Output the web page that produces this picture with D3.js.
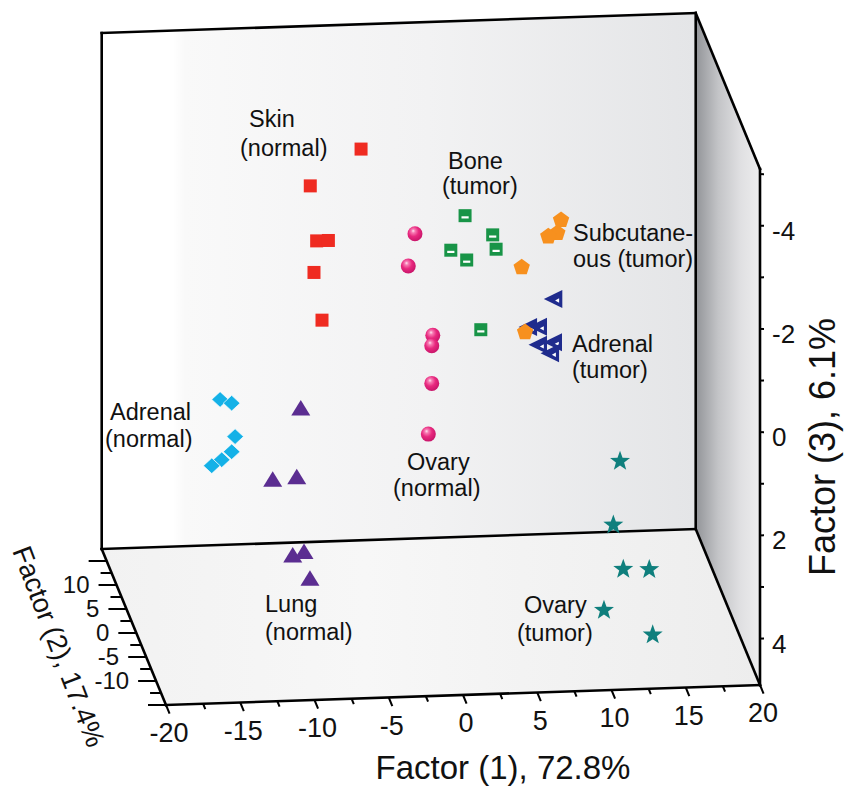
<!DOCTYPE html>
<html><head><meta charset="utf-8">
<script src="https://cdn.jsdelivr.net/npm/d3@7/dist/d3.min.js"></script>
<style>
body{margin:0;background:#fff}
svg{display:block}
text{font-family:"Liberation Sans",Arial,Helvetica,sans-serif;fill:#111}
</style>
</head><body>
<svg id="c" width="847" height="790"></svg>
<script>
// ---- DATA: each point is [Factor 1, Factor 2, Factor 3] ----
const skinNormal   = [[-4.20,5,-3.86],[-7.62,5,-3.18],[-7.19,5,-2.11],[-6.40,5,-2.11],[-7.37,5,-1.50],[-6.83,5,-0.57]];
const ovaryNormal  = [[-0.17,8,-1.90],[-0.62,8,-1.28],[1.03,8,0.08],[0.96,8,0.28],[0.96,8,1.01],[0.73,8,1.99]];
const boneTumor    = [[3.47,10,-2.03],[5.33,10,-1.64],[5.56,10,-1.36],[2.51,10,-1.37],[3.58,10,-1.17],[4.53,10,0.19]];
const adrenalTumor = [[8.48,3,-1.02],[6.78,3,-0.49],[7.45,3,-0.49],[8.46,3,-0.18],[7.45,3,-0.14],[8.26,3,0.03]];
const subcutTumor  = [[9.40,6,-2.26],[9.15,6,-2.01],[8.54,6,-1.95],[6.75,6,-1.37],[6.98,6,-0.11]];
const adrenalNormal= [[-12.76,12,1.56],[-11.98,12,1.64],[-11.75,12,2.29],[-11.98,12,2.58],[-12.65,12,2.73],[-13.32,12,2.84]];
const lungNormal   = [[-8.26,5,1.12],[-10.15,5,2.48],[-8.53,5,2.45],[-10.40,-7,2.83],[-9.64,-7,2.77],[-9.24,-7,3.29]];
const ovaryTumor   = [[12.04,-4,1.51],[11.59,-4,2.74],[11.46,-10,3.04],[13.21,-10,3.06],[10.16,-10,3.82],[13.44,-10,4.33]];

const categories = [
  ["Skin","(normal)"],["Ovary","(normal)"],["Bone","(tumor)"],["Adrenal","(tumor)"],
  ["Subcutane-","ous (tumor)"],["Adrenal","(normal)"],["Lung","(normal)"],["Ovary","(tumor)"]
];
const xTicks = [-20,-15,-10,-5,0,5,10,15,20];
const yTicks = [-10,-5,0,5,10];
const zTicks = [-4,-2,0,2,4];
const axisTitles = ["Factor (1), 72.8%","Factor (2), 17.4%","Factor (3), 6.1%"];

// ---- PROJECTION (oblique 3D box) ----
const xD=[-20,20], yD=[-15,17.5], zD=[4.9,-5.1];
const xs=d3.scaleLinear().domain(xD).range([0,1]);
const ys=d3.scaleLinear().domain(yD).range([0,1]);
const zs=d3.scaleLinear().domain(zD).range([0,1]);
const O=[166,705], EX=[594,-20], EY=[-64.3,-156], EZ=[0,-516];
function P(x,y,z){const a=xs(x),b=ys(y),c=zs(z);
  return [O[0]+a*EX[0]+b*EY[0]+c*EZ[0], O[1]+a*EX[1]+b*EY[1]+c*EZ[1]];}
const poly=pts=>"M"+pts.map(p=>p.join(",")).join("L")+"Z";

const svg=d3.select("#c");
const defs=svg.append("defs");
function lin(id,x1,x2,stops){const g=defs.append("linearGradient").attr("id",id)
  .attr("gradientUnits","userSpaceOnUse").attr("x1",x1).attr("x2",x2).attr("y1",0).attr("y2",0);
  stops.forEach(([o,c])=>g.append("stop").attr("offset",o).attr("stop-color",c));}

const [x0,x1]=xD,[y0,y1]=yD,[zb,zt]=zD;
const bw=[P(x0,y1,zb),P(x1,y1,zb),P(x1,y1,zt),P(x0,y1,zt)];
const fl=[P(x0,y0,zb),P(x1,y0,zb),P(x1,y1,zb),P(x0,y1,zb)];
const rw=[P(x1,y0,zb),P(x1,y1,zb),P(x1,y1,zt),P(x1,y0,zt)];

lin("gBack",bw[0][0],bw[1][0],[[0,"#ffffff"],[0.12,"#ffffff"],[0.14,"#f9f9f9"],[0.55,"#f2f2f3"],[1,"#e4e5e7"]]);
lin("gFloor",fl[3][0],fl[1][0],[[0,"#f2f2f2"],[0.4,"#f7f7f7"],[1,"#ededed"]]);
lin("gRight",rw[1][0],rw[0][0],[[0,"#929498"],[0.35,"#c3c4c7"],[0.7,"#e0e0e2"],[1,"#ededee"]]);

const rad=defs.append("radialGradient").attr("id","gSph").attr("cx",0.42).attr("cy",0.38).attr("r",0.62).attr("fx",0.38).attr("fy",0.3);
[[0,"#ffe4f0"],[0.2,"#f77bb3"],[0.55,"#e8297f"],[1,"#c9156a"]].forEach(([o,c])=>rad.append("stop").attr("offset",o).attr("stop-color",c));

svg.append("path").attr("d",poly(bw)).attr("fill","url(#gBack)");
svg.append("path").attr("d",poly(fl)).attr("fill","url(#gFloor)");
svg.append("path").attr("d",poly(rw)).attr("fill","url(#gRight)");

const LW=2.6;
const edges=[
 [P(x0,y1,zb),P(x0,y1,zt)],[P(x0,y1,zt),P(x1,y1,zt)],[P(x1,y1,zt),P(x1,y1,zb)],[P(x0,y1,zb),P(x1,y1,zb)],
 [P(x0,y0,zb),P(x0,y1,zb)],[P(x0,y0,zb),P(x1,y0,zb)],[P(x1,y0,zb),P(x1,y1,zb)],
 [P(x1,y1,zt),P(x1,y0,zt)],[P(x1,y0,zt),P(x1,y0,zb)]
];
svg.append("g").selectAll("line").data(edges).join("line")
 .attr("x1",d=>d[0][0]).attr("y1",d=>d[0][1]).attr("x2",d=>d[1][0]).attr("y2",d=>d[1][1])
 .attr("stroke","#000").attr("stroke-width",LW).attr("stroke-linecap","square");

// ticks
const tk=svg.append("g").attr("stroke","#000").attr("stroke-width",2);
d3.range(-20,20.01,2.5).forEach(v=>{const a=P(v,y0,zb),len=(v%5===0)?1.8:1.1,b=P(v,y0-len,zb);
  tk.append("line").attr("x1",a[0]).attr("y1",a[1]).attr("x2",b[0]).attr("y2",b[1]);});
d3.range(-15,15.01,2.5).forEach(v=>{const a=P(x0,v,zb),len=(v%5===0)?18:11;
  tk.append("line").attr("x1",a[0]).attr("y1",a[1]).attr("x2",a[0]-len).attr("y2",a[1]);});
d3.range(-5,4.01,1).forEach(v=>{const a=P(x1,y0,v);
  tk.append("line").attr("x1",a[0]).attr("y1",a[1]).attr("x2",a[0]+4).attr("y2",a[1]);});

// tick labels
const tl=svg.append("g");
xTicks.forEach(v=>{const a=P(v,y0,zb);
  tl.append("text").attr("x",a[0]+3).attr("y",a[1]+37).attr("text-anchor","middle").attr("font-size",27).text(v);});
yTicks.forEach(v=>{const a=P(x0,v,zb);
  tl.append("text").attr("x",a[0]-27).attr("y",a[1]+8).attr("text-anchor","end").attr("font-size",24).text(v);});
zTicks.forEach(v=>{const a=P(x1,y0,v);
  tl.append("text").attr("x",a[0]+12).attr("y",a[1]+14).attr("text-anchor","start").attr("font-size",26).text(v);});

// axis titles
svg.append("text").attr("x",503).attr("y",779).attr("text-anchor","middle").attr("font-size",33).text(axisTitles[0]);
svg.append("text").attr("transform","translate(50,650) rotate(69)").attr("text-anchor","middle").attr("font-size",27.5).text(axisTitles[1]);
svg.append("text").attr("transform","translate(835,447) rotate(-90)").attr("text-anchor","middle").attr("font-size",36).text(axisTitles[2]);

// symbols
function regPoly(n,r,rot){return d3.range(n).map(i=>{const t=rot+i*2*Math.PI/n;return [r*Math.cos(t),r*Math.sin(t)];});}
function star(ro,ri){return d3.range(10).map(i=>{const r=i%2?ri:ro,t=-Math.PI/2+i*Math.PI/5;return [r*Math.cos(t),r*Math.sin(t)];});}
const shapes={
  square:g=>g.append("rect").attr("x",-6.5).attr("y",-6.5).attr("width",13).attr("height",13).attr("fill","#ef2b21"),
  sphere:g=>g.append("circle").attr("r",7.5).attr("fill","url(#gSph)"),
  bone:g=>{g.append("rect").attr("x",-6.5).attr("y",-6.5).attr("width",13).attr("height",13).attr("fill","#189447");
           g.append("rect").attr("x",-3.6).attr("y",0.6).attr("width",7.2).attr("height",2.2).attr("fill","#fff");},
  ltri:g=>{g.append("path").attr("d",poly([[-9.5,0],[9,-9],[9,9]])).attr("fill","#1f2b8d");
           g.append("path").attr("d",poly([[1.8,1.6],[5.8,-0.6],[5.8,3.8]])).attr("fill","#fff");},
  pent:g=>g.append("path").attr("d",poly(regPoly(5,8.6,-Math.PI/2))).attr("fill","#f7901e"),
  diamond:g=>g.append("path").attr("d",poly([[0,-7.8],[8.4,0],[0,7.8],[-8.4,0]])).attr("fill","#14b1e7").attr("stroke","#ffffff").attr("stroke-width",0.7),
  utri:g=>g.append("path").attr("d",poly([[0,-8],[9.5,7.5],[-9.5,7.5]])).attr("fill","#5b2d91"),
  star:g=>g.append("path").attr("d",poly(star(10.5,4.3))).attr("fill","#0f7f7d")
};
const series=[
  {data:skinNormal,shape:"square"},{data:ovaryNormal,shape:"sphere"},{data:boneTumor,shape:"bone"},
  {data:adrenalTumor,shape:"ltri"},{data:subcutTumor,shape:"pent"},{data:adrenalNormal,shape:"diamond"},
  {data:lungNormal,shape:"utri"},{data:ovaryTumor,shape:"star"}
];
const pg=svg.append("g");
series.forEach(s=>{s.data.forEach(d=>{const p=P(d[0],d[1],d[2]);
  const g=pg.append("g").attr("transform",`translate(${p[0]},${p[1]})`);shapes[s.shape](g);});});

// category labels (layout: start x, baseline y per line)
const labelPos=[
  [[249,127],[240,156]],[[407,470],[393,496]],[[448,169],[442,194]],[[572,352],[572,378]],
  [[573,241],[573,267]],[[110,420],[105,447]],[[265,612],[265,640]],[[524,613],[517,641]]
];
const lg=svg.append("g");
categories.forEach((lines,i)=>lines.forEach((t,j)=>{
  lg.append("text").attr("x",labelPos[i][j][0]).attr("y",labelPos[i][j][1]).attr("font-size",23.5).text(t);}));
</script>
</body></html>
